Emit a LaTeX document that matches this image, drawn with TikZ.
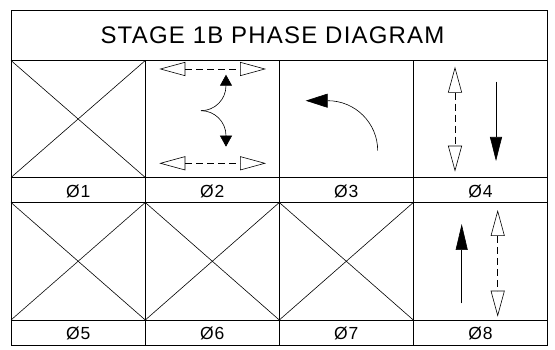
\documentclass[tikz,border=0pt]{standalone}
\usepackage{fontspec}
\setmainfont{Liberation Sans}
\newfontfamily\cadfont[LetterSpace=5]{Liberation Sans}
\usetikzlibrary{arrows.meta}

\begin{document}
\begin{tikzpicture}[x=1pt, y=1pt, line width=0.6pt,
    twoway/.style={dash pattern=on 7pt off 4pt,
        {Triangle[open, length=26pt, width=14pt]}-{Triangle[open, length=26pt, width=14pt]}},
    oneway/.style={-{Triangle[length=#1, width=12pt]}},
    phase/.style={font=\cadfont\fontsize{17.5}{17.5}\selectfont},
    heading/.style={font=\cadfont\fontsize{24}{24}\selectfont}]

    \useasboundingbox (0,0) rectangle (555,350);

    % frame and grid
    \draw (11,5) rectangle (547.7,340);
    \draw (11,289.5) -- (547.7,289.5);
    \draw (11,172.5) -- (547.7,172.5);
    \draw (11,147.5) -- (547.7,147.5);
    \draw (11,30) -- (547.7,30);
    \draw (145.3,5) -- (145.3,289.5);
    \draw (279.3,5) -- (279.3,289.5);
    \draw (413.3,5) -- (413.3,289.5);

    \node [heading] (title) at (272.5,314.75) {STAGE 1B PHASE DIAGRAM};

    % unused phases
    \draw (11,289.5) -- (145.3,172.5);
    \draw (11,172.5) -- (145.3,289.5);
    \draw (11,147.5) -- (145.3,30);
    \draw (11,30) -- (145.3,147.5);
    \draw (145.3,147.5) -- (279.3,30);
    \draw (145.3,30) -- (279.3,147.5);
    \draw (279.3,147.5) -- (413.3,30);
    \draw (279.3,30) -- (413.3,147.5);

    % phase 2
    \coordinate (fork) at (201,239.3);
    \draw [twoway] (159.3,281) -- (266,281);
    \draw [twoway] (159.3,186.7) -- (266,186.7);
    \draw [oneway=11pt] (fork) arc (-90:0:25) -- ++(0,11);
    \draw [oneway=11pt] (fork) arc (90:0:25) -- ++(0,-11);

    % phase 3
    \draw [-{Triangle[length=22pt, width=14pt]}] (377.7,199.3) arc (0:90:50) -- ++(-22,0);

    % phase 4
    \draw [twoway] (455,283.3) -- (455,178.3);
    \draw [oneway=24pt] (496,268.3) -- (496,189);

    % phase 8
    \draw [oneway=26pt] (461.7,46.7) -- (461.7,126);
    \draw [twoway] (497.7,140) -- (497.7,33.3);

    \node [phase] (p1) at (78.2,159) {Ø1};
    \node [phase] (p2) at (212.3,159) {Ø2};
    \node [phase] (p3) at (346.3,159) {Ø3};
    \node [phase] (p4) at (480.5,159) {Ø4};
    \node [phase] (p5) at (78.2,16.5) {Ø5};
    \node [phase] (p6) at (212.3,16.5) {Ø6};
    \node [phase] (p7) at (346.3,16.5) {Ø7};
    \node [phase] (p8) at (480.5,16.5) {Ø8};

\end{tikzpicture}
\end{document}
